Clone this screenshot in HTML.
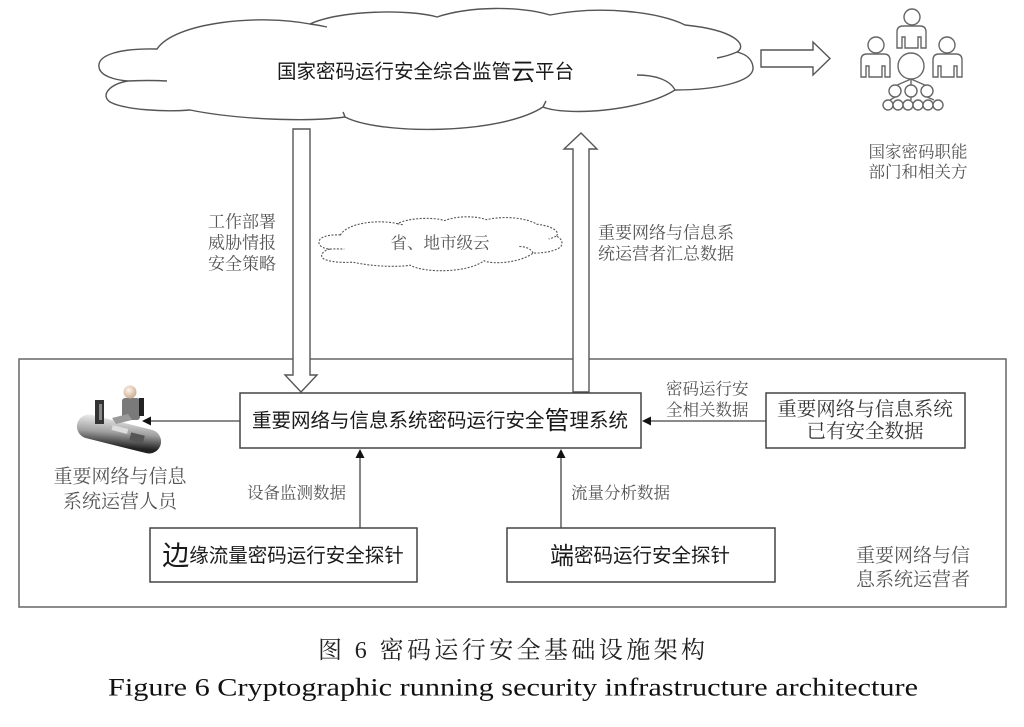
<!DOCTYPE html>
<html><head><meta charset="utf-8"><style>
html,body{margin:0;padding:0;background:#fff;}
svg{display:block;}
.sans{font-family:"Liberation Sans","Noto Sans CJK SC",sans-serif;}
.serif{font-family:"Liberation Serif","Noto Serif CJK SC",serif;}
</style></head><body>
<svg width="1024" height="727" viewBox="0 0 1024 727" xmlns="http://www.w3.org/2000/svg">
<defs>
<linearGradient id="desk" x1="0" y1="0" x2="0.6" y2="1">
<stop offset="0" stop-color="#f4f4f4"/><stop offset="0.55" stop-color="#a0a0a0"/><stop offset="1" stop-color="#222"/>
</linearGradient>
<radialGradient id="head" cx="0.4" cy="0.35" r="0.7">
<stop offset="0" stop-color="#fff4ea"/><stop offset="1" stop-color="#c9a98e"/>
</radialGradient>
</defs>

<!-- Main cloud -->
<g fill="#fff" stroke="#555" stroke-width="1.4">
<path d="M157,49 C120,48 97,55 99,67 C100,76 115,80 128,81 C110,84 100,95 110,102 C125,110 165,112 190,110 C240,120 310,122 345,117 C380,135 500,135 543,107 C565,116 640,112 675,90 C715,90 755,82 753,67 C752,58 745,54 737,52 C748,45 735,30 685,25 C660,12 600,5 550,15 C520,6 470,6 437,17 C410,9 340,10 310,24 C260,14 175,22 157,49 Z"/>
</g>
<g fill="none" stroke="#555" stroke-width="1.4">
<path d="M128,81 Q150,80 167,81"/>
<path d="M675,90 C670,80 655,75 637,75"/>
<path d="M737,52 Q728,56 717,58"/>
<path d="M310,24 Q318,25 327,27"/>
<path d="M345,117 Q344,114 343,112"/>
<path d="M543,107 Q545,103 546,101"/>
</g>
<text class="sans" x="277" y="72" dominant-baseline="central" font-size="19.5" fill="#1a1a1a">国家密码运行安全综合监管<tspan font-size="24">云</tspan>平台</text>

<!-- Right block arrow -->
<path d="M761,50 H813 V42 L830,58.5 L813,75 V67 H761 Z" fill="#fff" stroke="#555" stroke-width="1.4"/>

<!-- People icon -->
<g fill="#fff" stroke="#666" stroke-width="1.4">
<circle cx="912" cy="17" r="8"/>
<path d="M897,48 V32 Q897,26 903,26 H920 Q926,26 926,32 V48 H921 V37 H918 V48 H905 V37 H902 V48 Z"/>
<circle cx="876" cy="45" r="8"/>
<path d="M861,77 V60 Q861,54 867,54 H884 Q890,54 890,60 V77 H885 V66 H882 V77 H869 V66 H866 V77 Z"/>
<circle cx="947" cy="45" r="8"/>
<path d="M933,77 V60 Q933,54 939,54 H956 Q962,54 962,60 V77 H957 V66 H954 V77 H941 V66 H938 V77 Z"/>
<path d="M911,79 L895,86 M911,79 L911,85 M911,79 L927,86 M895,97 L890,100 M911,97 L911,100 M927,97 L934,100" fill="none"/>
<circle cx="911" cy="66" r="13"/>
<circle cx="895" cy="91" r="6"/>
<circle cx="911" cy="91" r="6"/>
<circle cx="927" cy="91" r="6"/>
<circle cx="888" cy="105" r="5"/>
<circle cx="898" cy="105" r="5"/>
<circle cx="908" cy="105" r="5"/>
<circle cx="918" cy="105" r="5"/>
<circle cx="928" cy="105" r="5"/>
<circle cx="938" cy="105" r="5"/>
</g>
<g class="serif" font-size="16.5" fill="#555" text-anchor="middle">
<text x="918" y="152" dominant-baseline="central">国家密码职能</text>
<text x="918" y="172" dominant-baseline="central">部门和相关方</text>
</g>

<!-- Labels on the big arrows -->
<g class="serif" font-size="17" fill="#555">
<text x="208" y="222" dominant-baseline="central">工作部署</text>
<text x="208" y="243" dominant-baseline="central">威胁情报</text>
<text x="208" y="264" dominant-baseline="central">安全策略</text>
<text x="598" y="233" dominant-baseline="central">重要网络与信息系</text>
<text x="598" y="254" dominant-baseline="central">统运营者汇总数据</text>
</g>

<!-- Small dashed cloud -->
<path d="M340.5,234.9 C326.8,234.4 318.2,237.5 319,242.9 C319.4,246.9 324.9,248.7 329.8,249.1 C323.1,250.5 319.4,255.4 323.1,258.5 C328.6,262.1 343.5,263 352.8,262.1 C371.4,266.5 397.4,267.4 410.4,265.2 C423.4,273.2 468,273.2 484,260.7 C492.2,264.7 520,263 533,253.1 C547.9,253.1 562.8,249.6 562,242.9 C561.6,238.9 559,237.1 556.1,236.2 C560.2,233.1 555.3,226.4 536.8,224.2 C527.5,218.4 505.2,215.2 486.6,219.7 C475.4,215.7 456.9,215.7 444.6,220.6 C434.6,217 408.5,217.5 397.4,223.7 C378.8,219.2 347.2,222.8 340.5,234.9 Z" fill="#fff" stroke="#555" stroke-width="1.1" stroke-dasharray="2,1.5"/>
<g fill="none" stroke="#555" stroke-width="1.1" stroke-dasharray="2,1.5">
<path d="M329.8,249.1 Q338,248.7 344.3,249.1"/>
<path d="M533,253.1 C531.2,248.7 525.6,246.5 518.9,246.5"/>
<path d="M556.1,236.2 Q552.7,238 548.6,238.9"/>
<path d="M397.4,223.7 Q400.4,224.2 403.7,225"/>
</g>
<text class="serif" x="440" y="243" dominant-baseline="central" text-anchor="middle" font-size="16.5" fill="#555">省、地市级云</text>

<!-- Outer operator box -->
<rect x="19" y="359" width="987" height="248" fill="none" stroke="#666" stroke-width="1.5"/>

<!-- Big vertical block arrows -->
<path d="M293,129 H310 V375 H317 L301,392 L285,375 H293 Z" fill="#fff" stroke="#555" stroke-width="1.4"/>
<path d="M573,392 V149 H564 L581,133 L597,149 H589 V392 Z" fill="#fff" stroke="#555" stroke-width="1.4"/>

<!-- Management box -->
<rect x="240" y="393" width="401" height="55" fill="#fff" stroke="#444" stroke-width="1.5"/>
<text class="sans" x="440" y="421" dominant-baseline="central" text-anchor="middle" font-size="19.5" fill="#1a1a1a">重要网络与信息系统密码运行安全<tspan font-size="25">管</tspan>理系统</text>

<!-- Existing data box -->
<rect x="766" y="393" width="199" height="55" fill="#fff" stroke="#444" stroke-width="1.5"/>
<g class="serif" font-size="19.5" fill="#333" text-anchor="middle">
<text x="865" y="410" dominant-baseline="central">重要网络与信息系统</text>
<text x="865" y="432" dominant-baseline="central">已有安全数据</text>
</g>

<!-- Probe boxes -->
<rect x="150" y="528" width="267" height="54" fill="#fff" stroke="#444" stroke-width="1.5"/>
<text class="sans" x="283" y="556" dominant-baseline="central" text-anchor="middle" font-size="19.5" fill="#1a1a1a"><tspan font-size="27">边</tspan>缘流量密码运行安全探针</text>
<rect x="507" y="528" width="268" height="54" fill="#fff" stroke="#444" stroke-width="1.5"/>
<text class="sans" x="640" y="556" dominant-baseline="central" text-anchor="middle" font-size="19.5" fill="#1a1a1a"><tspan font-size="24">端</tspan>密码运行安全探针</text>

<!-- Thin connectors -->
<g stroke="#444" stroke-width="1.3" fill="none">
<line x1="240" y1="421" x2="150" y2="421"/>
<line x1="766" y1="421" x2="649" y2="421"/>
<line x1="360" y1="528" x2="360" y2="456"/>
<line x1="561" y1="528" x2="561" y2="456"/>
</g>
<g fill="#111">
<path d="M142,421 L151,416.5 L151,425.5 Z"/>
<path d="M642,421 L651,416.5 L651,425.5 Z"/>
<path d="M360,449 L355.5,458 L364.5,458 Z"/>
<path d="M561,449 L556.5,458 L565.5,458 Z"/>
</g>

<!-- Connector labels -->
<g class="serif" font-size="16.5" fill="#555">
<text x="247" y="493" dominant-baseline="central">设备监测数据</text>
<text x="571" y="493" dominant-baseline="central">流量分析数据</text>
<text x="666" y="389" dominant-baseline="central">密码运行安</text>
<text x="666" y="410" dominant-baseline="central">全相关数据</text>
</g>

<!-- Operator icon -->
<g>
<rect x="76" y="422" width="86" height="24" rx="12" transform="rotate(14 119 434)" fill="url(#desk)"/>
<rect x="95" y="400" width="9" height="24" fill="#333"/>
<rect x="99" y="404" width="3" height="16" fill="#888"/>
<rect x="122" y="398" width="18" height="22" rx="3" fill="#7a7a7a"/>
<rect x="139" y="398" width="5" height="18" fill="#222"/>
<path d="M112,418 L128,414 L132,420 L116,424 Z" fill="#9a9a9a"/>
<rect x="112" y="427" width="16" height="5" fill="#ddd" transform="rotate(14 120 429)"/>
<rect x="130" y="434" width="14" height="8" fill="#555" transform="rotate(14 137 438)"/>
<circle cx="130" cy="392" r="6.5" fill="url(#head)"/>
</g>
<g class="serif" font-size="19" fill="#555" text-anchor="middle">
<text x="120" y="477" dominant-baseline="central">重要网络与信息</text>
<text x="120" y="502" dominant-baseline="central">系统运营人员</text>
<text x="913" y="556" dominant-baseline="central">重要网络与信</text>
<text x="913" y="580" dominant-baseline="central">息系统运营者</text>
</g>

<!-- Captions -->
<text class="serif" x="318" y="651" dominant-baseline="central" font-size="24" fill="#222" textLength="387" lengthAdjust="spacing">图 6  密码运行安全基础设施架构</text>
<text x="108" y="688" dominant-baseline="central" font-family="'Liberation Serif',serif" font-size="25" fill="#111" textLength="810" lengthAdjust="spacingAndGlyphs">Figure 6  Cryptographic running security infrastructure architecture</text>
</svg>
</body></html>
